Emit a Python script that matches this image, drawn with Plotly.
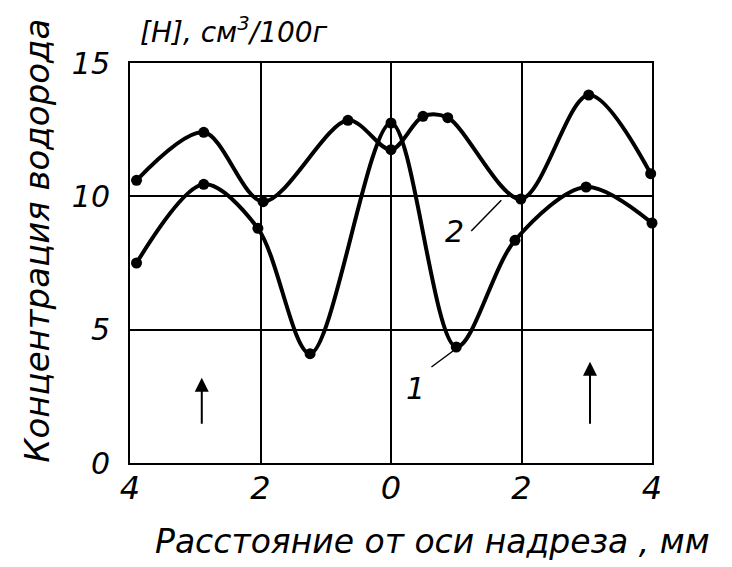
import plotly.graph_objects as go

# curve 1 (lower)
x1 = [-3.9, -2.87, -2.04, -1.24, 0.0, 1.0, 1.9, 2.99, 4.0]
y1 = [7.5, 10.45, 8.8, 4.1, 12.75, 4.35, 8.35, 10.35, 9.0]

# curve 2 (upper)
x2 = [-3.9, -2.87, -1.96, -0.66, 0.0, 0.49, 0.87, 1.99, 3.03, 3.98]
y2 = [10.6, 12.4, 9.8, 12.85, 11.75, 13.0, 12.95, 9.9, 13.8, 10.85]

xticks = [-4, -2, 0, 2, 4]
xticklabels = ["4", "2", "0", "2", "4"]
yticks = [0, 5, 10, 15]
yticklabels = ["0", "5", "10", "15"]

fnt = "DejaVu Sans"

fig = go.Figure()
for xs, ys in [(x1, y1), (x2, y2)]:
    fig.add_trace(go.Scatter(x=xs, y=ys, mode="lines+markers",
                             line=dict(color="black", width=4, shape="spline", smoothing=0.9),
                             marker=dict(color="black", size=11),
                             showlegend=False, cliponaxis=False))

# arrows in the lower cells
for ax_, y0, y1_ in [(-2.9, 1.1, 3.2), (3.05, 1.1, 3.8)]:
    fig.add_annotation(x=ax_, y=y1_, ax=ax_, ay=y0, xref="x", yref="y", axref="x", ayref="y",
                       showarrow=True, arrowhead=2, arrowsize=1.4, arrowwidth=2, arrowcolor="black", text=" ")

# curve labels with leader lines
fig.add_shape(type="line", x0=0.62, y0=3.6, x1=0.95, y1=4.2, line=dict(color="black", width=1.5))
fig.add_annotation(x=0.38, y=2.8, text="1", showarrow=False,
                   font=dict(family=fnt, size=30, style="italic", color="black"))
fig.add_shape(type="line", x0=1.23, y0=8.7, x1=1.69, y1=9.85, line=dict(color="black", width=1.5))
fig.add_annotation(x=0.98, y=8.7, text="2", showarrow=False,
                   font=dict(family=fnt, size=30, style="italic", color="black"))

# unit label above plot
fig.add_annotation(x=0.0, y=1.0, xref="paper", yref="paper", xanchor="left", yanchor="bottom",
                   xshift=8, yshift=12, text="[H], см<sup>3</sup>/100г", showarrow=False,
                   font=dict(family=fnt, size=28, style="italic", color="black"))

# axis titles placed as in the scan
fig.add_annotation(x=0.579, y=-0.195, xref="paper", yref="paper", showarrow=False,
                   xanchor="center", yanchor="middle",
                   text="Расстояние от оси надреза , мм",
                   font=dict(family=fnt, size=33, style="italic", color="black"))
fig.add_annotation(x=-0.178, y=0.556, xref="paper", yref="paper", showarrow=False, textangle=-90,
                   xanchor="center", yanchor="middle",
                   text="Концентрация водорода",
                   font=dict(family=fnt, size=34, style="italic", color="black"))

fig.update_xaxes(range=[-4, 4], tickvals=xticks, ticktext=xticklabels,
                 showgrid=True, gridcolor="black", gridwidth=1.5,
                 showline=True, linecolor="black", linewidth=2, mirror=True,
                 zeroline=False, ticks="", ticklen=0, ticklabelstandoff=-4,
                 tickfont=dict(family=fnt, size=32, style="italic", color="black"))
fig.update_yaxes(range=[0, 15], tickvals=yticks, ticktext=yticklabels,
                 showgrid=True, gridcolor="black", gridwidth=1.5,
                 showline=True, linecolor="black", linewidth=2, mirror=True,
                 zeroline=False, ticks="outside", ticklen=12, tickcolor="white",
                 tickfont=dict(family=fnt, size=30, style="italic", color="black"))

fig.update_layout(width=732, height=567, plot_bgcolor="white", paper_bgcolor="white",
                  margin=dict(l=122, r=88, t=55, b=112))

fig.write_html("out.html")
